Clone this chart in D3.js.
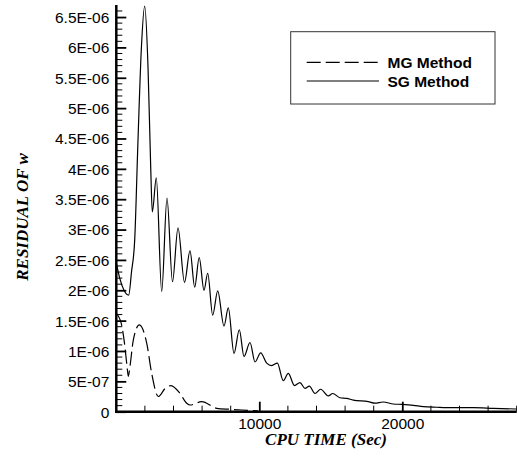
<!DOCTYPE html>
<html><head><meta charset="utf-8">
<script src="https://cdn.jsdelivr.net/npm/d3@7"></script>
<style>body{margin:0;background:#fff}svg{display:block}</style>
</head><body><svg id="c" width="517" height="465"></svg>
<script>
// Data (CPU time in seconds, residual)
const sgTime = [0,238,538,867,1063,1287,1517,1748,1986,2217,2406,2517,2797,3175,3545,3930,4315,4769,5154,5482,5797,6133,6392,6741,7091,7531,7832,8231,8601,8930,9350,9699,10098,10518,10867,11259,11678,12028,12461,12846,13196,13496,13895,14293,14825,15133,15643,16112,16573,17622,18091,18650,19370,19958,20769,21469,22405,23566,24965,26363,28000];
const sgResidual = [2.45e-6,2.2e-6,2.0e-6,1.92e-6,2.3e-6,2.83e-6,4.47e-6,5.96e-6,6.68e-6,5.68e-6,4.03e-6,3.29e-6,3.85e-6,1.98e-6,3.52e-6,2.14e-6,3.03e-6,2.13e-6,2.65e-6,2.05e-6,2.54e-6,2.0e-6,2.28e-6,1.59e-6,1.99e-6,1.41e-6,1.71e-6,0.96e-6,1.35e-6,0.91e-6,1.14e-6,0.82e-6,0.97e-6,0.80e-6,0.76e-6,0.80e-6,0.51e-6,0.63e-6,0.43e-6,0.48e-6,0.385e-6,0.42e-6,0.30e-6,0.37e-6,0.26e-6,0.30e-6,0.23e-6,0.22e-6,0.19e-6,0.165e-6,0.14e-6,0.16e-6,0.127e-6,0.12e-6,0.105e-6,0.082e-6,0.073e-6,0.066e-6,0.066e-6,0.056e-6,0.044e-6];
const mgTime = [0,350,560,750,840,958,1189,1608,2126,2476,2937,3406,3825,4454,4923,5154,5972,7021,7951,8769,9909];
const mgResidual = [1.62e-6,1.45e-6,1.15e-6,0.75e-6,0.58e-6,0.75e-6,1.18e-6,1.43e-6,1.13e-6,0.63e-6,0.25e-6,0.38e-6,0.43e-6,0.30e-6,0.14e-6,0.11e-6,0.165e-6,0.056e-6,0.04e-6,0.028e-6,0.016e-6];
const yTickValues = [0,5e-7,1e-6,1.5e-6,2e-6,2.5e-6,3e-6,3.5e-6,4e-6,4.5e-6,5e-6,5.5e-6,6e-6,6.5e-6];
const yTickLabels = ["0","5E-07","1E-06","1.5E-06","2E-06","2.5E-06","3E-06","3.5E-06","4E-06","4.5E-06","5E-06","5.5E-06","6E-06","6.5E-06"];
const xTickValues = [10000,20000];
const xTickLabels = ["10000","20000"];
const seriesNames = ["MG Method","SG Method"];

const svg = d3.select("#c");
const x = d3.scaleLinear().domain([0,28000]).range([116.3,516.7]);
const y = d3.scaleLinear().domain([0,6.7e-6]).range([411.7,4.9]);

// curves
const line = d3.line().x(d=>x(d[0])).y(d=>y(d[1])).curve(d3.curveMonotoneX);
svg.append("path").datum(sgTime.map((t,i)=>[t,sgResidual[i]]))
  .attr("d",line).attr("fill","none").attr("stroke","#000").attr("stroke-width",1.2);
svg.append("path").datum(mgTime.map((t,i)=>[t,mgResidual[i]]))
  .attr("d",line).attr("fill","none").attr("stroke","#000").attr("stroke-width",1.2)
  .attr("stroke-dasharray","14,5");

// y minor ticks
const yMinor = d3.range(0,67).map(i=>i*1e-7).filter(v=>Math.abs(v/5e-7-Math.round(v/5e-7))>1e-6);
svg.append("g").selectAll("line").data(yMinor).join("line")
  .attr("x1",x(0)).attr("x2",x(0)+6).attr("y1",d=>y(d)).attr("y2",d=>y(d))
  .attr("stroke","#000").attr("stroke-width",1);
// x minor ticks
const xMinor = d3.range(2000,28001,2000).filter(v=>v%10000!==0);
svg.append("g").selectAll("line").data(xMinor).join("line")
  .attr("x1",d=>x(d)).attr("x2",d=>x(d)).attr("y1",y(0)).attr("y2",y(0)-6)
  .attr("stroke","#000").attr("stroke-width",1);

// y axis
const yAxis = d3.axisRight(y).tickValues(yTickValues).tickSize(10)
  .tickFormat((d,i)=>yTickLabels[i]);
const ga = svg.append("g").attr("transform",`translate(${x(0)},0)`).call(yAxis);
ga.select(".domain").remove();
ga.selectAll(".tick line").attr("stroke-width",1.8);
ga.selectAll(".tick text").attr("x",-7).attr("text-anchor","end").attr("dy","0.35em")
  .style("font-family","'Liberation Sans',Arial,sans-serif").style("font-size","15.5px").attr("fill","#000");

// x axis
const xAxis = d3.axisTop(x).tickValues(xTickValues).tickSize(10)
  .tickFormat((d,i)=>xTickLabels[i]);
const gx = svg.append("g").attr("transform",`translate(0,${y(0)})`).call(xAxis);
gx.select(".domain").remove();
gx.selectAll(".tick line").attr("stroke-width",1.8);
gx.selectAll(".tick text").attr("y",17).attr("dy","0").style("dominant-baseline","auto")
  .style("font-family","'Liberation Sans',Arial,sans-serif").style("font-size","15.5px").attr("fill","#000");

// axis lines
svg.append("line").attr("x1",x(0)).attr("x2",x(0)).attr("y1",y(0)+1.2).attr("y2",y(6.7e-6))
  .attr("stroke","#000").attr("stroke-width",2.5);
svg.append("line").attr("x1",x(0)-1.2).attr("x2",x(28000)).attr("y1",y(0)).attr("y2",y(0))
  .attr("stroke","#000").attr("stroke-width",2.5);

// titles
svg.append("text").attr("x",326).attr("y",445).attr("text-anchor","middle")
  .style("font-family","'Liberation Serif','Times New Roman',serif").style("font-size","17px")
  .style("font-weight","bold").style("font-style","italic").text("CPU TIME (Sec)");
svg.append("text").attr("transform","translate(28,217) rotate(-90)").attr("text-anchor","middle")
  .style("font-family","'Liberation Serif','Times New Roman',serif").style("font-size","17px")
  .style("font-weight","bold").style("font-style","italic").text("RESIDUAL OF w");

// legend
const lg = svg.append("g");
lg.append("rect").attr("x",290.7).attr("y",31.7).attr("width",204.3).attr("height",72.3)
  .attr("fill","#fff").attr("stroke","#333").attr("stroke-width",1);
const legendY = [62.3,81];
lg.selectAll("line.s").data(seriesNames).join("line").attr("class","s")
  .attr("x1",306.7).attr("x2",379).attr("y1",(d,i)=>legendY[i]).attr("y2",(d,i)=>legendY[i])
  .attr("stroke","#000").attr("stroke-width",1.2)
  .attr("stroke-dasharray",(d,i)=>i===0?"14,5":null);
lg.selectAll("text").data(seriesNames).join("text")
  .attr("x",387.5).attr("y",(d,i)=>legendY[i]).attr("dy","0.36em")
  .style("font-family","'Liberation Sans',Arial,sans-serif").style("font-size","15.5px")
  .style("font-weight","bold").text(d=>d);
</script></body></html>
